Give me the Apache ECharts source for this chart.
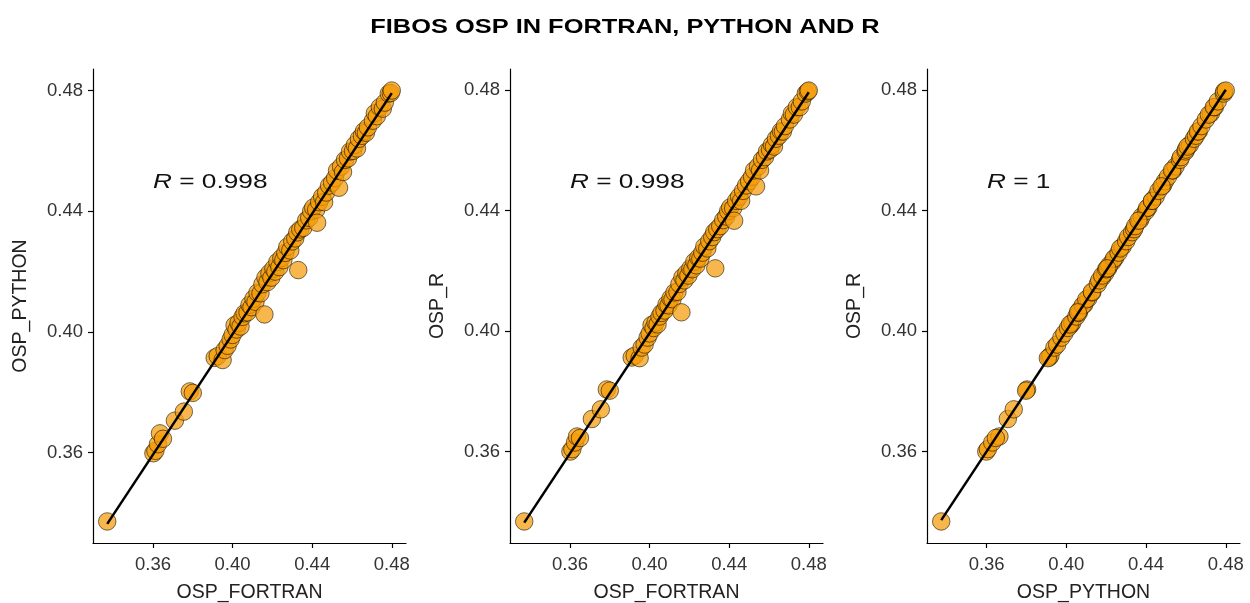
<!DOCTYPE html>
<html>
<head>
<meta charset="utf-8">
<script src="https://cdn.jsdelivr.net/npm/echarts@6/dist/echarts.min.js"></script>
<style>html,body{margin:0;padding:0;background:#fff}#c{width:1250px;height:603px}</style>
</head>
<body>
<div id="c"></div>
<script>
const titleText = 'FIBOS OSP IN FORTRAN, PYTHON AND R';
const tickValues = [0.36, 0.40, 0.44, 0.48];
const panelNames = [['OSP_FORTRAN', 'OSP_PYTHON'], ['OSP_FORTRAN', 'OSP_R'], ['OSP_PYTHON', 'OSP_R']];
const rLabels = ['0.998', '0.998', '1'];

const ospFortran = [0.3370,0.3602,0.3612,0.3625,0.3635,0.3650,0.3710,0.3755,0.3785,0.3800,
0.3910,0.3925,0.3950,0.3960,0.3975,0.3990,0.4000,0.4010,0.4020,0.4030,0.4040,0.4050,0.4060,0.4075,0.4085,0.4095,
0.4105,0.4115,0.4125,0.4140,0.4160,0.4150,0.4165,0.4175,0.4185,0.4195,0.4205,0.4215,0.4225,0.4235,0.4245,0.4255,
0.4265,0.4275,0.4290,0.4300,0.4315,0.4330,0.4325,0.4340,0.4355,0.4370,0.4385,0.4395,0.4405,0.4420,0.4425,0.4435,
0.4450,0.4460,0.4470,0.4485,0.4500,0.4515,0.4535,0.4525,0.4545,0.4555,0.4565,0.4580,0.4590,0.4605,0.4615,0.4625,
0.4635,0.4650,0.4660,0.4670,0.4680,0.4705,0.4715,0.4725,0.4740,0.4755,0.4765,0.4785,0.4795,0.4800];

const ospPython = [0.3372,0.3598,0.3606,0.3628,0.3664,0.3646,0.3706,0.3736,0.3803,0.3798,
0.3914,0.3920,0.3907,0.3940,0.3954,0.3975,0.3990,0.4022,0.4008,0.4030,0.4018,0.4050,0.4062,0.4065,0.4090,0.4082,
0.4110,0.4100,0.4130,0.4128,0.4058,0.4158,0.4180,0.4165,0.4195,0.4180,0.4210,0.4200,0.4232,0.4215,0.4245,0.4238,
0.4262,0.4282,0.4270,0.4300,0.4310,0.4205,0.4330,0.4340,0.4345,0.4370,0.4378,0.4400,0.4412,0.4405,0.4362,0.4430,
0.4448,0.4430,0.4462,0.4485,0.4495,0.4510,0.4478,0.4535,0.4548,0.4530,0.4570,0.4575,0.4598,0.4600,0.4620,0.4608,
0.4640,0.4650,0.4665,0.4660,0.4678,0.4700,0.4725,0.4715,0.4745,0.4740,0.4760,0.4790,0.4792,0.4800];

const ospR = [0.3368,0.3600,0.3608,0.3630,0.3650,0.3645,0.3708,0.3740,0.3806,0.3802,
0.3912,0.3918,0.3910,0.3945,0.3955,0.3978,0.3992,0.4020,0.4010,0.4028,0.4022,0.4048,0.4060,0.4068,0.4088,0.4085,
0.4108,0.4105,0.4128,0.4130,0.4062,0.4156,0.4178,0.4168,0.4192,0.4184,0.4208,0.4205,0.4230,0.4218,0.4243,0.4240,
0.4260,0.4280,0.4274,0.4298,0.4312,0.4208,0.4328,0.4338,0.4348,0.4368,0.4380,0.4398,0.4410,0.4408,0.4366,0.4432,
0.4446,0.4432,0.4465,0.4483,0.4497,0.4512,0.4480,0.4533,0.4546,0.4533,0.4568,0.4577,0.4596,0.4602,0.4618,0.4612,
0.4638,0.4648,0.4663,0.4662,0.4680,0.4702,0.4722,0.4718,0.4743,0.4743,0.4762,0.4788,0.4795,0.4798];

const pairs = [[ospFortran, ospPython], [ospFortran, ospR], [ospPython, ospR]];

function rangeOf(a) {
  const mn = Math.min(...a), mx = Math.max(...a), d = mx - mn;
  return [mn - 0.05 * d, mx + 0.05 * d];
}
function fit(xs, ys) {
  const n = xs.length;
  const mx = xs.reduce((s, v) => s + v, 0) / n, my = ys.reduce((s, v) => s + v, 0) / n;
  let sxy = 0, sxx = 0;
  for (let i = 0; i < n; i++) { sxy += (xs[i] - mx) * (ys[i] - my); sxx += (xs[i] - mx) ** 2; }
  const b = sxy / sxx, a = my - b * mx;
  const x0 = Math.min(...xs), x1 = Math.max(...xs);
  return [[x0, a + b * x0], [x1, a + b * x1]];
}

const FONT = '"Liberation Sans", Arial, sans-serif';
const gridLefts = [93, 510, 927];
const grids = [], xAxes = [], yAxes = [], series = [];
const graphics = [{
  type: 'text', x: 625, y: 27, scaleX: 1.27,
  style: { text: titleText, fontSize: 20, fontWeight: 'bold', fontFamily: FONT, fill: '#000', align: 'center', verticalAlign: 'middle' }
}];

pairs.forEach((p, i) => {
  const [xs, ys] = p;
  grids.push({ left: gridLefts[i], top: 69, width: 313, height: 474, containLabel: false, outerBoundsMode: 'none' });
  const xr = rangeOf(xs), yr = rangeOf(ys);
  const common = {
    type: 'value', gridIndex: i, scale: true,
    splitLine: { show: false },
    axisLine: { show: true, onZero: false, lineStyle: { color: '#000', width: 1.2 } },
    axisTick: { show: true, length: 5, inside: false, customValues: tickValues, lineStyle: { color: '#000', width: 1.2 } },
    nameLocation: 'middle',
    nameTextStyle: { color: '#222', fontSize: 19.5, fontFamily: FONT }
  };
  const lab = { show: true, customValues: tickValues, formatter: v => v.toFixed(2), color: '#333', fontSize: 18.5, fontFamily: FONT };
  xAxes.push(Object.assign({}, common, { min: xr[0], max: xr[1], name: panelNames[i][0], nameGap: 40, axisLabel: Object.assign({ margin: 12 }, lab) }));
  yAxes.push(Object.assign({}, common, { min: yr[0], max: yr[1], name: panelNames[i][1], nameGap: 62, axisLabel: Object.assign({ margin: 10 }, lab) }));
  series.push({
    type: 'scatter', xAxisIndex: i, yAxisIndex: i, symbol: 'circle', symbolSize: 17.5,
    data: xs.map((x, k) => [x, ys[k]]),
    itemStyle: { color: 'rgba(245,158,12,0.92)', borderColor: 'rgba(25,18,0,0.75)', borderWidth: 1 },
    z: 2, silent: true
  });
  series.push({
    type: 'line', xAxisIndex: i, yAxisIndex: i, data: fit(xs, ys), symbol: 'none',
    lineStyle: { color: '#000', width: 2.5 }, z: 3, silent: true
  });
  graphics.push({
    type: 'text', x: gridLefts[i] + 60, y: 182, scaleX: 1.25,
    style: {
      text: '{i|R} = ' + rLabels[i],
      rich: { i: { fontStyle: 'italic', fontSize: 21, fontFamily: FONT, fill: '#111' } },
      fontSize: 21, fontFamily: FONT, fill: '#111', align: 'left', verticalAlign: 'middle'
    }
  });
});

const chart = echarts.init(document.getElementById('c'), null, { renderer: 'canvas' });
chart.setOption({
  animation: false,
  backgroundColor: '#fff',
  grid: grids, xAxis: xAxes, yAxis: yAxes, series: series, graphic: graphics
});
</script>
</body>
</html>
